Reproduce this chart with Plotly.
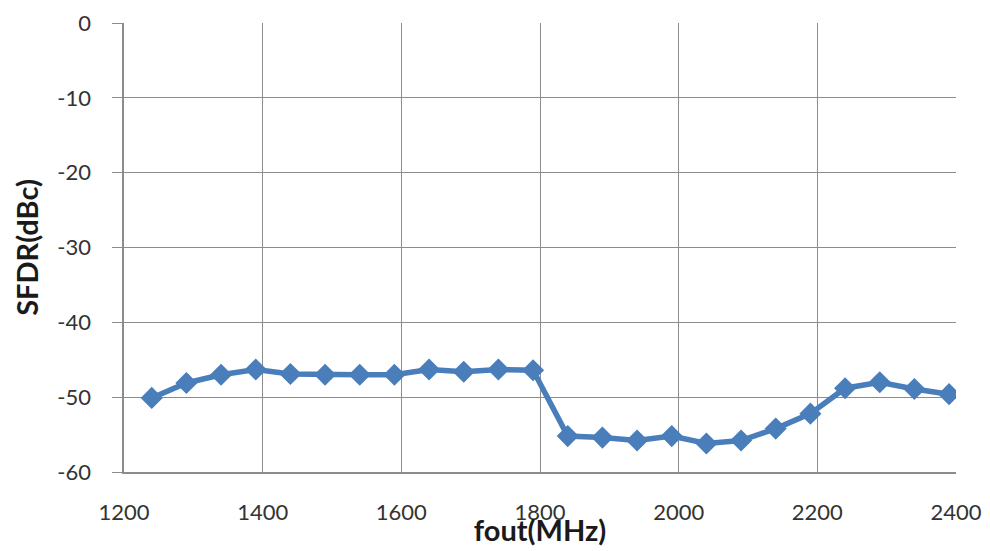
import plotly.graph_objects as go

fout_mhz = [1240, 1290, 1340, 1390, 1440, 1490, 1540, 1590, 1640, 1690, 1740, 1790,
            1840, 1890, 1940, 1990, 2040, 2090, 2140, 2190, 2240, 2290, 2340, 2390]
sfdr_dbc = [-50.1, -48.1, -47.0, -46.3, -46.9, -47.0, -47.0, -47.0, -46.3, -46.6, -46.3, -46.4,
            -55.2, -55.4, -55.8, -55.2, -56.2, -55.8, -54.2, -52.2, -48.8, -48.0, -48.9, -49.6]

x_ticks = [1200, 1400, 1600, 1800, 2000, 2200, 2400]
y_ticks = [0, -10, -20, -30, -40, -50, -60]

fig = go.Figure()
fig.add_trace(go.Scatter(
    x=fout_mhz, y=sfdr_dbc, mode="lines+markers",
    line=dict(color="#4A7EBB", width=5.5),
    marker=dict(symbol="diamond", size=17, color="#4A7EBB"),
    showlegend=False,
))

grid = "#8C8C8C"
fig.update_layout(
    width=975, height=539,
    margin=dict(l=116, r=27, t=15, b=75),
    paper_bgcolor="white", plot_bgcolor="white",
    font=dict(family="Lato, Open Sans, sans-serif", size=22, color="#333333"),
)
fig.update_xaxes(
    range=[1200, 2400], tickvals=x_ticks, ticktext=[str(v) for v in x_ticks],
    showgrid=True, gridcolor=grid, gridwidth=1,
    showline=True, linecolor=grid, linewidth=1.5,
    ticks="", zeroline=False, automargin=False,
    title=dict(text="<b>fout(MHz)</b>", font=dict(size=29, color="#1a1a1a"), standoff=0),
    ticklabelstandoff=20,
)
fig.update_yaxes(
    range=[-60, 0], tickvals=y_ticks, ticktext=[str(v) + "\u00a0\u00a0\u00a0" for v in y_ticks],
    showgrid=True, gridcolor=grid, gridwidth=1,
    showline=True, linecolor=grid, linewidth=1.5,
    ticks="outside", ticklen=10, tickcolor=grid,
    zeroline=False, automargin=False,
    title=dict(text="<b>SFDR(dBc)</b>", font=dict(size=29, color="#1a1a1a"), standoff=10),
)

fig.write_html("out.html")
